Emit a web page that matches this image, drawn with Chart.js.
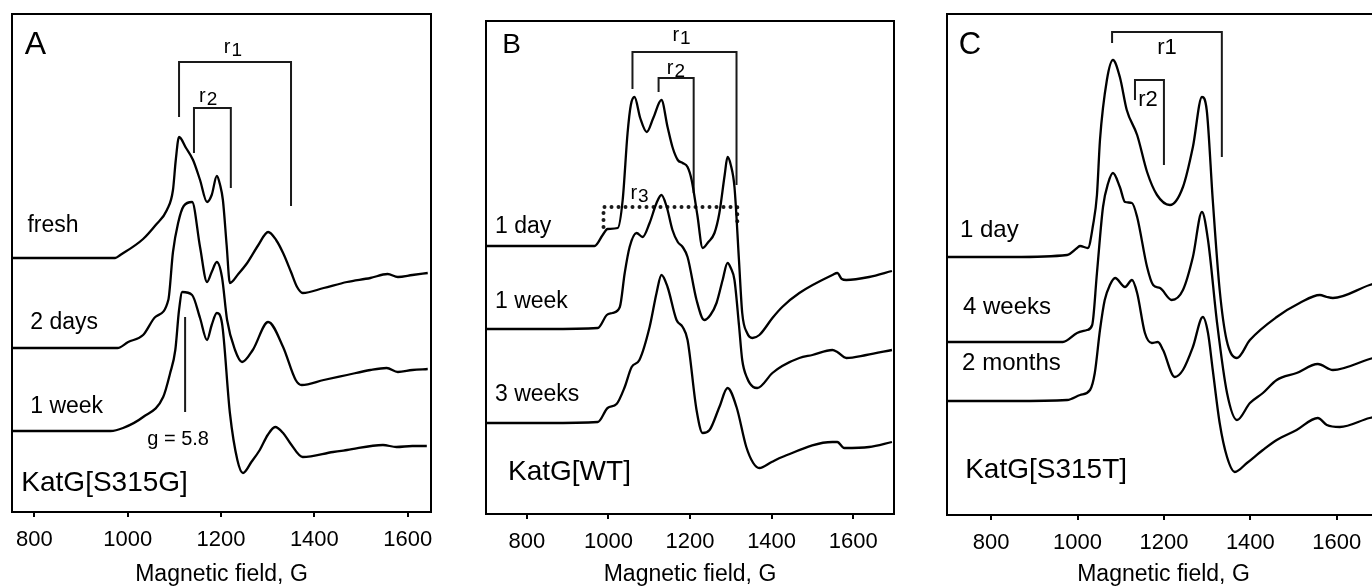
<!DOCTYPE html>
<html>
<head>
<meta charset="utf-8">
<title>KatG EPR spectra</title>
<script src="https://cdn.jsdelivr.net/npm/chart.js@4/dist/chart.umd.min.js"></script>
<style>
  html, body { margin: 0; padding: 0; background: #fff; overflow: hidden; width: 1372px; height: 588px; }
  canvas { position: absolute; top: 0; }
</style>
</head>
<body>
<canvas id="chartA" width="450" height="588" style="left:0px"></canvas>
<canvas id="chartB" width="450" height="588" style="left:466px"></canvas>
<canvas id="chartC" width="470" height="588" style="left:930px"></canvas>
<script>
var fieldTicks = [800, 1000, 1200, 1400, 1600];
var FONT = '"Liberation Sans", Arial, sans-serif';

// KatG[S315G]
var freshField = [753, 900, 973, 984, 1033, 1060, 1084, 1097, 1103, 1110, 1125, 1140, 1155, 1170, 1180, 1191, 1198, 1204, 1212, 1219, 1237, 1256, 1280, 1301, 1318, 1333, 1350, 1363, 1375, 1420, 1470, 1520, 1557, 1579, 1610, 1643];
var freshSignal = [254, 254, 254, 257, 273, 287, 302, 322, 352, 375, 364, 352, 332, 310, 317, 336, 327, 312, 267, 229, 238, 249, 267, 280, 272, 259, 240, 225, 219, 224, 230, 234, 238, 235, 237, 239];
var days2Field = [753, 900, 978, 1001, 1033, 1059, 1087, 1097, 1108, 1120, 1138, 1155, 1170, 1180, 1191, 1202, 1213, 1230, 1245, 1268, 1301, 1333, 1360, 1373, 1420, 1470, 1520, 1555, 1579, 1610, 1643];
var days2Signal = [164, 164, 164, 170, 177, 195, 212, 260, 289, 306, 310, 265, 230, 240, 250, 235, 192, 162, 150, 162, 190, 165, 132, 127, 132, 137, 142, 144, 140, 142, 143];
var week1Field = [753, 900, 963, 990, 1033, 1076, 1091, 1102, 1110, 1117, 1138, 1155, 1170, 1180, 1191, 1202, 1219, 1235, 1247, 1265, 1283, 1300, 1316, 1333, 1348, 1375, 1440, 1470, 1547, 1576, 1610, 1641];
var week1Signal = [81, 81, 81, 84, 95, 115, 139, 162, 202, 220, 217, 194, 172, 187, 199, 189, 99, 52, 39, 50, 62, 77, 85, 79, 69, 55, 60, 62, 67, 65, 66, 66];

// KatG[WT]
var wtDay1Field = [700, 850, 966, 986, 998, 1023, 1035, 1047, 1055, 1064, 1078, 1094, 1110, 1130, 1145, 1157, 1170, 1182, 1194, 1204, 1218, 1231, 1245, 1260, 1272, 1285, 1292, 1300, 1309, 1320, 1328, 1340, 1353, 1370, 1402, 1426, 1468, 1549, 1561, 1572, 1583, 1639, 1695];
var wtDay1Signal = [268, 268, 268, 279, 285, 286, 314, 381, 409, 417, 396, 382, 396, 414, 387, 367, 354, 351, 347, 334, 299, 266, 272, 281, 301, 339, 357, 349, 327, 254, 201, 181, 176, 179, 196, 207, 221, 239, 241, 235, 234, 237, 243];
var wtWeek1Field = [700, 850, 974, 996, 1010, 1028, 1040, 1052, 1069, 1084, 1101, 1118, 1130, 1143, 1157, 1170, 1182, 1194, 1216, 1235, 1250, 1265, 1280, 1292, 1300, 1309, 1320, 1328, 1340, 1355, 1365, 1402, 1426, 1468, 1500, 1549, 1561, 1583, 1632, 1695];
var wtWeek1Signal = [185, 185, 186, 199, 201, 207, 241, 267, 281, 277, 291, 311, 319, 307, 284, 272, 267, 257, 214, 194, 199, 211, 234, 251, 246, 234, 189, 154, 136, 127, 126, 141, 148, 156, 159, 164, 162, 156, 159, 164];
var wtWeek3Field = [700, 850, 974, 998, 1020, 1040, 1057, 1076, 1101, 1118, 1130, 1145, 1167, 1182, 1194, 1216, 1231, 1248, 1272, 1292, 1314, 1338, 1355, 1370, 1400, 1426, 1549, 1561, 1578, 1639, 1695];
var wtWeek3Signal = [91, 91, 92, 106, 110, 127, 147, 154, 187, 221, 239, 227, 194, 187, 174, 104, 81, 84, 107, 126, 107, 67, 51, 46, 52, 57, 72, 72, 66, 67, 72];

// KatG[S315T]
var tDay1Field = [698, 850, 976, 999, 1006, 1024, 1036, 1045, 1052, 1068, 1082, 1098, 1114, 1138, 1161, 1184, 1214, 1244, 1267, 1288, 1299, 1313, 1329, 1345, 1369, 1399, 1461, 1514, 1561, 1577, 1591, 1676, 1700];
var tDay1Signal = [258, 258, 260, 267, 269, 267, 290, 320, 375, 435, 455, 438, 405, 380, 343, 320, 310, 328, 368, 418, 405, 315, 225, 175, 157, 175, 198, 212, 220, 218, 217, 230, 233];
var tWeek4Field = [698, 850, 966, 999, 1022, 1034, 1045, 1059, 1071, 1082, 1098, 1110, 1126, 1138, 1161, 1175, 1191, 1218, 1244, 1267, 1288, 1302, 1323, 1346, 1369, 1399, 1429, 1461, 1507, 1556, 1591, 1676, 1700];
var tWeek4Signal = [173, 173, 173, 182, 185, 190, 242, 308, 332, 342, 328, 313, 312, 298, 248, 230, 227, 215, 225, 258, 303, 275, 192, 122, 95, 112, 122, 135, 142, 151, 145, 156, 159];
var tMonth2Field = [698, 850, 976, 1006, 1029, 1040, 1052, 1063, 1075, 1087, 1110, 1126, 1138, 1156, 1172, 1186, 1198, 1225, 1244, 1267, 1290, 1302, 1313, 1329, 1346, 1364, 1392, 1429, 1461, 1507, 1556, 1577, 1607, 1676, 1700];
var tMonth2Signal = [114, 114, 115, 120, 125, 142, 185, 215, 230, 237, 228, 235, 222, 182, 172, 173, 165, 138, 145, 168, 198, 182, 145, 92, 58, 43, 52, 65, 75, 85, 97, 90, 88, 97, 99];

// splitting brackets and markers
var aR1Field = [1110, 1110, 1350, 1350], aR1Level = [395, 450, 450, 306];
var aR2Field = [1142, 1142, 1221, 1221], aR2Level = [359, 404, 404, 324];
var aGField = [1123, 1123], aGLevel = [195, 100];
var bR1Field = [1059, 1059, 1314, 1314], bR1Level = [425, 462, 462, 329];
var bR2Field = [1123, 1123, 1209, 1209], bR2Level = [422, 436, 436, 321];
var bR3Field = [988, 988, 1316, 1316], bR3Level = [287, 307, 307, 287];
var cR1Field = [1080, 1080, 1334, 1334], cR1Level = [472, 483, 483, 358];
var cR2Field = [1133, 1133, 1200, 1200], cR2Level = [415, 435, 435, 350];

function pts(xs, ys) {
  return xs.map(function (x, i) { return { x: x, y: ys[i] }; });
}

function trace(xs, ys) {
  return {
    data: pts(xs, ys),
    borderColor: '#000',
    borderWidth: 2.3,
    pointRadius: 0,
    cubicInterpolationMode: 'monotone',
    fill: false
  };
}

function bracket(xs, ys, dotted) {
  var ds = {
    data: pts(xs, ys),
    borderColor: '#1a1a1a',
    borderWidth: 2,
    pointRadius: 0,
    tension: 0,
    fill: false
  };
  if (dotted) {
    ds.borderWidth = 4;
    ds.borderDash = [0, 7];
    ds.borderCapStyle = 'round';
  }
  return ds;
}

// text labels in data coordinates + the box around the plot
function notes(items) {
  return {
    id: 'notes',
    afterDatasetsDraw: function (chart) {
      var ctx = chart.ctx, sx = chart.scales.x, sy = chart.scales.y;
      ctx.save();
      ctx.fillStyle = '#000';
      ctx.textBaseline = 'middle';
      items.forEach(function (n) {
        var x = sx.getPixelForValue(n.x), y = sy.getPixelForValue(n.y);
        ctx.font = n.size + 'px ' + FONT;
        ctx.textAlign = n.align || 'left';
        ctx.fillText(n.text, x, y);
        if (n.sub) {
          var w = ctx.measureText(n.text).width;
          ctx.font = (n.size - 1) + 'px ' + FONT;
          ctx.textAlign = 'left';
          ctx.fillText(n.sub, x + w + 1, y + 4);
        }
      });
      var a = chart.chartArea;
      ctx.lineWidth = 2;
      ctx.strokeStyle = '#000';
      ctx.strokeRect(a.left, a.top, a.right - a.left, a.bottom - a.top);
      ctx.restore();
    }
  };
}

function panel(id, opts) {
  return new Chart(document.getElementById(id), {
    type: 'line',
    data: { datasets: opts.datasets },
    options: {
      responsive: false,
      animation: false,
      events: [],
      layout: { padding: opts.padding },
      plugins: { legend: { display: false }, tooltip: { enabled: false } },
      scales: {
        x: {
          type: 'linear',
          min: opts.min,
          max: opts.max,
          afterBuildTicks: function (s) {
            s.ticks = fieldTicks.map(function (v) { return { value: v }; });
          },
          afterFit: function (s) { s.height = opts.axisHeight; },
          grid: { drawOnChartArea: false, tickLength: 5, color: '#000', lineWidth: 2 },
          border: { display: true, color: '#000', width: 2 },
          ticks: {
            color: '#000',
            padding: 10,
            font: { family: FONT, size: 22 },
            callback: function (v) { return String(v); }
          },
          title: {
            display: true,
            text: 'Magnetic field, G',
            color: '#000',
            padding: { top: 0, bottom: 0 },
            font: { family: FONT, size: 23 }
          }
        },
        y: { display: false, min: 0, max: opts.top }
      }
    },
    plugins: [notes(opts.notes)]
  });
}

panel('chartA', {
  min: 752, max: 1650, top: 498, axisHeight: 76,
  padding: { left: 12, right: 19, top: 14, bottom: 0 },
  datasets: [
    trace(freshField, freshSignal),
    trace(days2Field, days2Signal),
    trace(week1Field, week1Signal),
    bracket(aR1Field, aR1Level),
    bracket(aR2Field, aR2Level),
    bracket(aGField, aGLevel)
  ],
  notes: [
    { text: 'A', x: 802, y: 467, size: 32, align: 'center' },
    { text: 'r', sub: '1', x: 1206, y: 465, size: 20 },
    { text: 'r', sub: '2', x: 1153, y: 416, size: 20 },
    { text: 'g = 5.8', x: 1108, y: 73, size: 20, align: 'center' },
    { text: 'fresh', x: 785, y: 286, size: 23 },
    { text: '2 days', x: 791, y: 189, size: 23 },
    { text: '1 week', x: 791, y: 105, size: 23 },
    { text: 'KatG[S315G]', x: 772, y: 29, size: 28 }
  ]
});

panel('chartB', {
  min: 700, max: 1700, top: 493, axisHeight: 74,
  padding: { left: 20, right: 22, top: 21, bottom: 0 },
  datasets: [
    trace(wtDay1Field, wtDay1Signal),
    trace(wtWeek1Field, wtWeek1Signal),
    trace(wtWeek3Field, wtWeek3Signal),
    bracket(bR1Field, bR1Level),
    bracket(bR2Field, bR2Level),
    bracket(bR3Field, bR3Level, true)
  ],
  notes: [
    { text: 'B', x: 763, y: 469, size: 28, align: 'center' },
    { text: 'r', sub: '1', x: 1157, y: 479, size: 20 },
    { text: 'r', sub: '2', x: 1143, y: 446, size: 20 },
    { text: 'r', sub: '3', x: 1054, y: 321, size: 20 },
    { text: '1 day', x: 722, y: 287, size: 23 },
    { text: '1 week', x: 722, y: 212, size: 23 },
    { text: '3 weeks', x: 722, y: 119, size: 23 },
    { text: 'KatG[WT]', x: 754, y: 42, size: 28 }
  ]
});

panel('chartC', {
  min: 698, max: 1700, top: 501, axisHeight: 73,
  padding: { left: 17, right: 20, top: 14, bottom: 0 },
  datasets: [
    trace(tDay1Field, tDay1Signal),
    trace(tWeek4Field, tWeek4Signal),
    trace(tMonth2Field, tMonth2Signal),
    bracket(cR1Field, cR1Level),
    bracket(cR2Field, cR2Level)
  ],
  notes: [
    { text: 'C', x: 751, y: 470, size: 31, align: 'center' },
    { text: 'r1', x: 1207, y: 467, size: 22, align: 'center' },
    { text: 'r2', x: 1163, y: 415, size: 22, align: 'center' },
    { text: '1 day', x: 728, y: 285, size: 24 },
    { text: '4 weeks', x: 735, y: 208, size: 24 },
    { text: '2 months', x: 733, y: 152, size: 24 },
    { text: 'KatG[S315T]', x: 740, y: 45, size: 28 }
  ]
});
</script>
</body>
</html>
